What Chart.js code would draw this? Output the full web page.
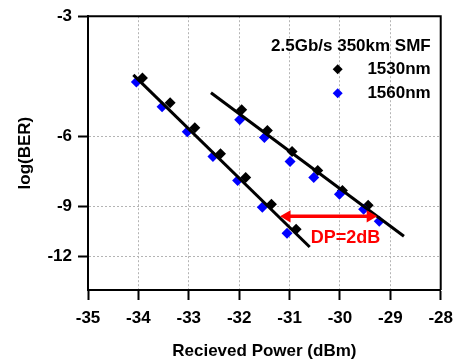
<!DOCTYPE html>
<html>
<head>
<meta charset="utf-8">
<script src="https://cdn.jsdelivr.net/npm/chart.js@4.4.0/dist/chart.umd.min.js"></script>
<style>
  html, body { margin: 0; padding: 0; background: #fff; }
  #wrap { width: 461px; height: 362px; }
</style>
</head>
<body>
<div id="wrap"><canvas id="ber"></canvas></div>
<script>
// values: received power (dBm) and log10(BER)
const pow1530 = [-33.92, -33.37, -32.88, -32.37, -31.87, -31.36, -30.87,
                 -31.95, -31.44, -30.95, -30.44, -29.95, -29.44];
const ber1530 = [-4.29, -4.95, -5.72, -6.64, -7.62, -8.90, -10.27,
                 -5.15, -5.81, -6.56, -7.32, -8.21, -8.95];
const pow1560 = [-34.04, -33.53, -33.03, -32.52, -32.03, -31.54, -31.05,
                 -31.99, -31.50, -30.99, -30.52, -30.01, -29.53, -29.22];
const ber1560 = [-4.39, -5.06, -5.85, -6.75, -7.75, -9.05, -10.52,
                 -5.46, -6.05, -6.95, -7.62, -8.40, -9.16, -9.81];

// linear fit lines (end points)
const fitAPow = [-34.10, -30.60];
const fitABer = [-4.21, -11.39];
const fitBPow = [-32.56, -28.73];
const fitBBer = [-4.67, -10.70];

// power penalty arrow
const dpPow = [-31.05, -29.40];
const dpBer = [-9.54, -9.54];
const dpText = 'DP=2dB';

const seriesNames = ['1530nm', '1560nm'];
const seriesColors = ['#000000', '#0000ff'];
const legendTitle = '2.5Gb/s 350km SMF';

const xTicks = [-35, -34, -33, -32, -31, -30, -29, -28];
const yTicks = [-3, -6, -9, -12];

const FONT = '"Liberation Sans", Arial, sans-serif';

// y axis is drawn on -log(BER) with a log scale, like the usual BER plots
function pts(xs, ys) {
  return xs.map((x, i) => ({ x: x, y: -ys[i] }));
}

const frame = {
  id: 'frame',
  afterDraw(chart) {
    const { ctx, chartArea: a } = chart;
    ctx.save();
    ctx.strokeStyle = '#000';
    ctx.lineWidth = 2;
    ctx.beginPath();
    ctx.moveTo(a.left, a.top);
    ctx.lineTo(a.right, a.top);
    ctx.lineTo(a.right, a.bottom);
    ctx.stroke();
    ctx.restore();
  }
};

const notes = {
  id: 'notes',
  afterDraw(chart) {
    const { ctx, chartArea: a, scales } = chart;
    ctx.save();
    ctx.font = 'bold 17px ' + FONT;
    ctx.textBaseline = 'middle';
    ctx.textAlign = 'right';
    ctx.fillStyle = '#000';
    const rx = a.right - 10;
    ctx.fillText(legendTitle, rx, a.top + 30);
    seriesNames.forEach((name, i) => {
      const y = a.top + 53 + i * 24;
      ctx.fillStyle = '#000';
      ctx.fillText(name, rx, y);
      const mx = a.right - 103, r = 5;
      ctx.fillStyle = seriesColors[i];
      ctx.beginPath();
      ctx.moveTo(mx, y - r);
      ctx.lineTo(mx + r, y);
      ctx.lineTo(mx, y + r);
      ctx.lineTo(mx - r, y);
      ctx.closePath();
      ctx.fill();
    });
    // penalty label under the arrow
    ctx.font = 'bold 18px ' + FONT;
    ctx.textAlign = 'center';
    ctx.fillStyle = '#ff0000';
    ctx.fillText(dpText, scales.x.getPixelForValue(-29.89), scales.y.getPixelForValue(10.79));
    ctx.restore();
  }
};

new Chart(document.getElementById('ber'), {
  type: 'scatter',
  data: {
    datasets: [
      {
        label: 'dp',
        data: pts(dpPow, dpBer),
        showLine: true,
        borderColor: '#ff0000',
        borderWidth: 3.5,
        pointStyle: 'triangle',
        pointRotation: [-90, 90],
        pointRadius: 7,
        pointBackgroundColor: '#ff0000',
        pointBorderWidth: 0
      },
      {
        label: 'fitA',
        data: pts(fitAPow, fitABer),
        showLine: true,
        borderColor: '#000',
        borderWidth: 3,
        pointRadius: 0
      },
      {
        label: 'fitB',
        data: pts(fitBPow, fitBBer),
        showLine: true,
        borderColor: '#000',
        borderWidth: 3,
        pointRadius: 0
      },
      {
        label: seriesNames[1],
        data: pts(pow1560, ber1560),
        pointStyle: 'rectRot',
        pointRadius: 5.5,
        pointBackgroundColor: seriesColors[1],
        pointBorderWidth: 0
      },
      {
        label: seriesNames[0],
        data: pts(pow1530, ber1530),
        pointStyle: 'rectRot',
        pointRadius: 5.5,
        pointBackgroundColor: seriesColors[0],
        pointBorderWidth: 0
      }
    ]
  },
  options: {
    responsive: true,
    maintainAspectRatio: false,
    animation: false,
    layout: { padding: { top: 15, right: 17, left: 0, bottom: 0 } },
    plugins: {
      legend: { display: false },
      tooltip: { enabled: false }
    },
    scales: {
      x: {
        type: 'linear',
        min: -35,
        max: -28,
        afterFit: (s) => { s.height = 72; },
        afterBuildTicks: (s) => { s.ticks = xTicks.map(v => ({ value: v })); },
        ticks: {
          color: '#000',
          padding: 8,
          autoSkip: false,
          maxRotation: 0,
          font: { family: FONT, size: 17, weight: 'bold' }
        },
        grid: {
          color: '#b4b4b4',
          lineWidth: 1,
          tickColor: '#000',
          tickWidth: 2,
          tickLength: 10
        },
        border: { color: '#000', width: 2, dash: [2, 2] },
        title: {
          display: true,
          text: 'Recieved Power (dBm)',
          color: '#000',
          padding: { top: 0, bottom: 0 },
          font: { family: FONT, size: 17, weight: 'bold' }
        }
      },
      y: {
        type: 'logarithmic',
        reverse: true,
        min: 3,
        max: 14.6,
        afterFit: (s) => { s.width = 88; },
        afterBuildTicks: (s) => { s.ticks = yTicks.map(v => ({ value: -v })); },
        ticks: {
          color: '#000',
          padding: 6,
          autoSkip: false,
          callback: (v) => String(-v),
          font: { family: FONT, size: 17, weight: 'bold' }
        },
        grid: {
          color: '#b4b4b4',
          lineWidth: 1,
          tickColor: '#000',
          tickWidth: 2,
          tickLength: 10
        },
        border: { color: '#000', width: 2, dash: [2, 2] },
        title: {
          display: true,
          text: 'log(BER)',
          color: '#000',
          padding: { top: 15, bottom: 0 },
          font: { family: FONT, size: 17, weight: 'bold' }
        }
      }
    }
  },
  plugins: [frame, notes]
});
</script>
</body>
</html>
